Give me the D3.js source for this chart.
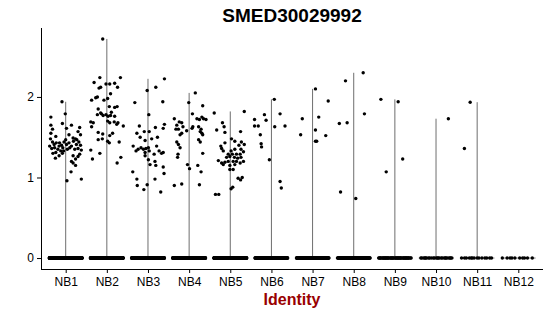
<!DOCTYPE html>
<html>
<head>
<meta charset="utf-8">
<script src="https://cdn.jsdelivr.net/npm/d3@7"></script>
<style>
  body { margin: 0; background: #fff; }
  text { font-family: "Liberation Sans", Arial, sans-serif; }
</style>
</head>
<body>
<div id="chartContainer"></div>
<script>
// gene + clusters
var geneName = "SMED30029992";
var clusters = ["NB1", "NB2", "NB3", "NB4", "NB5", "NB6", "NB7", "NB8", "NB9", "NB10", "NB11", "NB12"];
var yTicks = [0, 1, 2];

// cells with zero expression in each cluster (estimated)
var zeroCounts = [400, 300, 300, 300, 300, 150, 120, 100, 50, 25, 14, 10];

// expressing cells: [expression, jitter (fraction of category step)]
var nb1 = [[1.94,-0.09],[1.75,-0.36],[1.79,-0.01],[1.65,-0.36],[1.60,-0.32],[1.67,-0.08],[1.65,0.14],[1.62,0.34],[1.61,0.02],[1.55,-0.36],
  [1.51,-0.24],[1.53,0.08],[1.57,0.30],[1.53,0.36],[1.48,0.24],[1.49,0.18],[1.44,-0.32],[1.41,-0.28],[1.43,-0.23],[1.39,-0.39],
  [1.43,-0.15],[1.40,-0.10],[1.44,-0.04],[1.41,0.02],[1.43,0.08],[1.39,0.14],[1.45,0.19],[1.41,0.26],[1.44,0.32],[1.40,0.36],
  [1.36,-0.34],[1.37,-0.27],[1.35,-0.19],[1.33,-0.12],[1.35,0.04],[1.37,0.10],[1.35,0.22],[1.36,0.30],[1.34,0.38],[1.31,-0.24],
  [1.27,-0.16],[1.24,-0.25],[1.30,-0.08],[1.27,0.18],[1.20,0.14],[1.18,0.18],[1.15,0.24],[1.26,0.30],[1.39,-0.16],[1.37,-0.07],
  [1.07,0.13],[0.96,0.03],[0.98,0.38],[1.23,0.24],[1.30,-0.31],[1.29,0.34],[1.47,0.00],[1.47,0.27],[1.48,-0.37],[1.33,-0.05]];
var nb2 = [[2.72,-0.10],[2.24,-0.17],[2.18,-0.31],[2.24,0.33],[2.16,-0.02],[2.16,0.07],[2.17,0.19],[2.11,-0.19],[2.12,-0.15],[2.04,0.09],
  [2.12,0.26],[1.96,-0.37],[1.99,-0.27],[2.00,-0.23],[1.98,0.02],[1.96,-0.07],[1.87,0.19],[1.88,0.25],[1.88,0.06],[1.85,-0.21],
  [1.80,-0.15],[1.78,-0.23],[1.79,-0.13],[1.77,-0.09],[1.78,-0.02],[1.76,0.03],[1.77,0.09],[1.76,0.19],[1.81,0.11],[1.69,-0.39],
  [1.68,-0.33],[1.63,-0.37],[1.68,0.07],[1.69,0.18],[1.66,0.24],[1.68,0.27],[1.64,0.40],[1.56,-0.21],[1.54,-0.10],[1.55,0.14],
  [1.52,0.07],[1.47,-0.21],[1.48,-0.11],[1.45,0.02],[1.43,0.06],[1.44,0.30],[1.34,-0.39],[1.30,-0.17],[1.23,-0.35],[1.25,0.34],
  [1.18,0.25],[1.70,0.02]];
var nb3 = [[2.225,0.40],[2.12,0.19],[2.08,-0.02],[1.93,-0.32],[1.94,0.36],[1.78,0.02],[1.64,-0.21],[1.66,0.40],[1.62,0.18],[1.55,-0.27],
  [1.57,-0.09],[1.57,0.03],[1.50,-0.19],[1.50,0.23],[1.61,0.37],[1.39,-0.36],[1.35,-0.24],[1.37,-0.17],[1.35,-0.11],[1.36,-0.05],
  [1.37,0.01],[1.33,0.03],[1.33,-0.29],[1.31,-0.07],[1.39,0.21],[1.33,0.27],[1.30,0.33],[1.31,0.37],[1.29,0.15],[1.22,0.01],
  [1.16,0.05],[1.20,0.17],[1.15,0.19],[1.27,-0.07],[1.13,0.37],[1.07,-0.37],[1.05,0.39],[0.98,-0.27],[0.98,0.17],[0.90,-0.26],
  [0.91,-0.02],[0.85,-0.10],[0.82,0.31],[1.48,0.09],[1.46,-0.07]];
var nb4 = [[2.05,0.15],[1.93,-0.01],[1.79,0.08],[1.73,-0.36],[1.69,-0.24],[1.68,-0.18],[1.73,0.19],[1.72,0.25],[1.73,0.35],[1.72,0.41],
  [1.89,0.33],[1.75,0.31],[1.65,-0.30],[1.60,-0.26],[1.60,-0.32],[1.63,-0.15],[1.63,0.09],[1.61,0.07],[1.63,0.23],[1.60,0.29],
  [1.57,0.27],[1.55,0.31],[1.53,0.33],[1.53,-0.22],[1.55,-0.18],[1.58,-0.06],[1.44,-0.30],[1.41,-0.26],[1.37,-0.22],[1.47,0.23],
  [1.44,0.27],[1.29,-0.27],[1.25,-0.28],[1.30,0.33],[1.16,-0.04],[1.11,0.01],[1.15,0.21],[1.07,0.29],[0.90,-0.36],[0.92,-0.18],
  [0.91,0.25]];
var nb5 = [[1.82,0.34],[1.80,-0.39],[1.68,-0.19],[1.63,-0.15],[1.59,-0.33],[1.56,-0.13],[1.57,0.25],[1.48,0.03],[1.45,0.11],[1.43,-0.13],
  [1.39,-0.23],[1.44,0.27],[1.41,0.34],[1.40,0.21],[1.36,-0.21],[1.33,-0.17],[1.33,0.02],[1.35,0.11],[1.35,0.26],[1.32,0.32],
  [1.29,-0.05],[1.29,0.05],[1.29,0.15],[1.29,0.24],[1.25,-0.09],[1.26,-0.01],[1.25,0.10],[1.24,0.18],[1.25,0.26],[1.21,-0.29],
  [1.18,-0.21],[1.19,-0.13],[1.20,-0.05],[1.20,0.07],[1.20,0.15],[1.18,0.24],[1.20,0.32],[1.16,-0.17],[1.15,-0.01],[1.16,0.11],
  [1.10,-0.01],[1.10,0.07],[0.99,0.19],[0.97,0.25],[1.00,0.29],[0.88,0.06],[0.86,0.02],[0.79,-0.36],[0.79,-0.28]];
var nb6 = [[1.97,0.07],[1.72,-0.41],[1.78,-0.17],[1.71,-0.13],[1.79,0.21],[1.64,-0.41],[1.64,-0.32],[1.63,0.08],[1.64,0.33],[1.53,-0.27],
  [1.42,-0.25],[1.38,-0.24],[1.22,-0.05],[0.95,0.21],[0.87,0.24]];
var nb7 = [[2.10,0.07],[1.95,0.38],[1.73,-0.25],[1.75,0.15],[1.59,0.07],[1.53,-0.29],[1.52,0.32],[1.45,0.07],[1.45,0.10]];
var nb8 = [[2.30,0.23],[2.20,-0.20],[1.79,0.26],[1.67,-0.35],[1.68,-0.16],[0.82,-0.32],[0.74,0.05]];
var nb9 = [[1.97,-0.34],[1.94,0.08],[1.23,0.19],[1.07,-0.21]];
var nb10 = [[1.73,0.30]];
var nb11 = [[1.935,-0.17],[1.36,-0.31]];
var nb12 = [];

var expressing = [nb1, nb2, nb3, nb4, nb5, nb6, nb7, nb8, nb9, nb10, nb11, nb12];

var width = 550, height = 316;
var plotLeft = 41, plotRight = 543, plotTop = 28, plotBottom = 269;

var svg = d3.select("#chartContainer").append("svg")
  .attr("width", width)
  .attr("height", height);

// build cell table
var cells = [];
clusters.forEach(function(c, ci){
  // zeros get a fixed spread inside the jitter width (no randomness)
  for (var i = 0; i < zeroCounts[ci]; i++) {
    var f = ((i + 1) * 0.6180339887 + ci * 0.37) % 1;
    cells.push({cluster: c, value: 0, jitter: f * 0.8 - 0.4});
  }
  expressing[ci].forEach(function(p){
    cells.push({cluster: c, value: p[0], jitter: p[1]});
  });
});

var maxVal = d3.max(cells, function(d){ return d.value; });
var pad = maxVal * 0.05;

var x = d3.scalePoint().domain(clusters).range([plotLeft, plotRight]).padding(0.6);
var y = d3.scaleLinear().domain([-pad, maxVal + pad]).range([plotBottom, plotTop]);
var step = x.step();

// violins: with most cells at 0 they collapse to a stem and a flat base
var violins = clusters.map(function(c, ci){
  var vals = expressing[ci].map(function(p){ return p[0]; });
  return {cluster: c, max: vals.length ? d3.max(vals) : 0};
});

svg.append("g").selectAll("line.stem")
  .data(violins.filter(function(d){ return d.max > 0; }))
  .join("line")
  .attr("class", "stem")
  .attr("x1", function(d){ return x(d.cluster); })
  .attr("x2", function(d){ return x(d.cluster); })
  .attr("y1", y(0))
  .attr("y2", function(d){ return y(d.max); })
  .attr("stroke", "#6e6e6e")
  .attr("stroke-width", 1);

svg.append("g").selectAll("line.base")
  .data(violins)
  .join("line")
  .attr("class", "base")
  .attr("x1", function(d){ return x(d.cluster) - step * 0.42; })
  .attr("x2", function(d){ return x(d.cluster) + step * 0.42; })
  .attr("y1", y(0))
  .attr("y2", y(0))
  .attr("stroke", "#555")
  .attr("stroke-width", 0.8);

// jittered cells
svg.append("g").selectAll("circle")
  .data(cells)
  .join("circle")
  .attr("cx", function(d){ return x(d.cluster) + d.jitter * step; })
  .attr("cy", function(d){ return y(d.value); })
  .attr("r", 1.7)
  .attr("fill", "#000");

// axes
var yAxis = d3.axisLeft(y).tickValues(yTicks).tickFormat(d3.format("d")).tickSize(4).tickPadding(3);
var gy = svg.append("g").attr("transform", "translate(" + plotLeft + ",0)").call(yAxis);
gy.select(".domain").attr("d", "M0.5," + plotTop + "V" + plotBottom).attr("stroke", "#000");

var xAxis = d3.axisBottom(x).tickSize(4).tickPadding(4).tickSizeOuter(0);
var gx = svg.append("g").attr("transform", "translate(0," + plotBottom + ")").call(xAxis);
gx.select(".domain").attr("d", "M" + plotLeft + ",0.5H" + plotRight).attr("stroke", "#000");

svg.selectAll(".tick line").attr("stroke", "#000");
svg.selectAll(".tick text")
  .style("font-size", "12px")
  .style("font-family", "'Liberation Sans', Arial, sans-serif")
  .attr("fill", "#000");

// title
svg.append("text")
  .attr("x", (plotLeft + plotRight) / 2)
  .attr("y", 22)
  .attr("text-anchor", "middle")
  .style("font-size", "19px")
  .style("font-weight", "bold")
  .text(geneName);

// x title
svg.append("text")
  .attr("x", (plotLeft + plotRight) / 2)
  .attr("y", 305)
  .attr("text-anchor", "middle")
  .style("font-size", "16px")
  .style("font-weight", "bold")
  .attr("fill", "#990000")
  .text("Identity");
</script>
</body>
</html>
